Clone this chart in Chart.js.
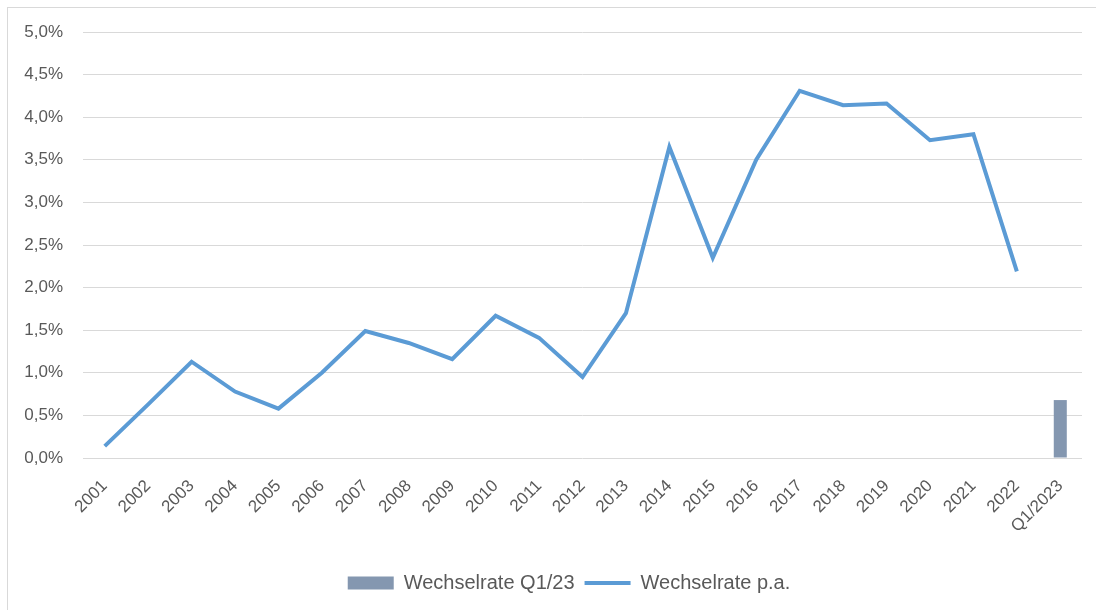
<!DOCTYPE html>
<html>
<head>
<meta charset="utf-8">
<script src="https://cdn.jsdelivr.net/npm/chart.js@4/dist/chart.umd.min.js"></script>
<style>
  html, body { margin: 0; padding: 0; background: #fff; }
  #rahmen {
    position: absolute; left: 7px; top: 7px; width: 1089px; height: 603px;
    border-left: 1px solid #d9d9d9; border-top: 1px solid #d9d9d9;
  }
  #box { position: absolute; left: 0; top: 0; width: 1096px; height: 610px; }
</style>
</head>
<body>
<div id="rahmen"></div>
<div id="box"><canvas id="wechselChart"></canvas></div>
<script>
const jahre = ['2001', '2002', '2003', '2004', '2005', '2006', '2007', '2008', '2009', '2010',
    '2011', '2012', '2013', '2014', '2015', '2016', '2017', '2018', '2019', '2020',
    '2021', '2022', 'Q1/2023'];

// Wechselrate p.a. in %
const wechselrateJahr = [0.14, 0.63, 1.13, 0.78, 0.58, 1.00, 1.49, 1.35, 1.16, 1.67,
    1.41, 0.95, 1.70, 3.65, 2.35, 3.50, 4.31, 4.14, 4.16, 3.73,
    3.80, 2.19, null];

// Wechselrate Q1/23 in %
const wechselrateQuartal = [null, null, null, null, null, null, null, null, null, null,
    null, null, null, null, null, null, null, null, null, null,
    null, null, 0.68];

const grau = '#595959';
const fmt = v => v.toFixed(1).replace('.', ',') + '%';

// Legende sitzt im Original etwas rechts der Mitte
const legendeVersatz = {
    id: 'legendeVersatz',
    afterLayout(chart) {
        chart.legend.left += 28;
        chart.legend.right += 28;
    }
};

const ctx = document.getElementById('wechselChart').getContext('2d');

new Chart(ctx, {
    type: 'bar',
    data: {
        labels: jahre,
        datasets: [{
            type: 'bar',
            label: 'Wechselrate Q1/23',
            data: wechselrateQuartal,
            backgroundColor: '#8497b0',
            borderWidth: 0,
            barPercentage: 0.3,
            categoryPercentage: 1,
            pointStyle: 'rect',
            order: 2
        }, {
            type: 'line',
            label: 'Wechselrate p.a.',
            data: wechselrateJahr,
            borderColor: '#5b9bd5',
            backgroundColor: '#5b9bd5',
            borderWidth: 4,
            pointRadius: 0,
            pointStyle: 'line',
            tension: 0,
            order: 1
        }]
    },
    options: {
        responsive: true,
        maintainAspectRatio: false,
        animation: false,
        layout: { padding: { top: 32, right: 14, left: 0, bottom: 7 } },
        plugins: {
            tooltip: { enabled: false },
            legend: {
                position: 'bottom',
                labels: {
                    usePointStyle: true,
                    pointStyleWidth: 46,
                    boxHeight: 13,
                    color: grau,
                    padding: 10,
                    sort: (a, b) => a.datasetIndex - b.datasetIndex,
                    font: { family: 'Liberation Sans', size: 20 }
                }
            }
        },
        scales: {
            x: {
                grid: { display: false },
                border: { display: false },
                ticks: {
                    color: grau,
                    maxRotation: 45,
                    minRotation: 45,
                    autoSkip: false,
                    padding: 10,
                    font: { family: 'Liberation Sans', size: 17 }
                },
                afterFit: s => { s.height = 105; }
            },
            y: {
                min: 0,
                max: 5,
                border: { display: false },
                grid: { color: '#d9d9d9', lineWidth: 1, drawTicks: false },
                ticks: {
                    stepSize: 0.5,
                    color: grau,
                    padding: 20,
                    callback: v => fmt(v),
                    font: { family: 'Liberation Sans', size: 17 }
                },
                afterFit: s => { s.width = 83; }
            }
        }
    },
    plugins: [legendeVersatz]
});
</script>
</body>
</html>
